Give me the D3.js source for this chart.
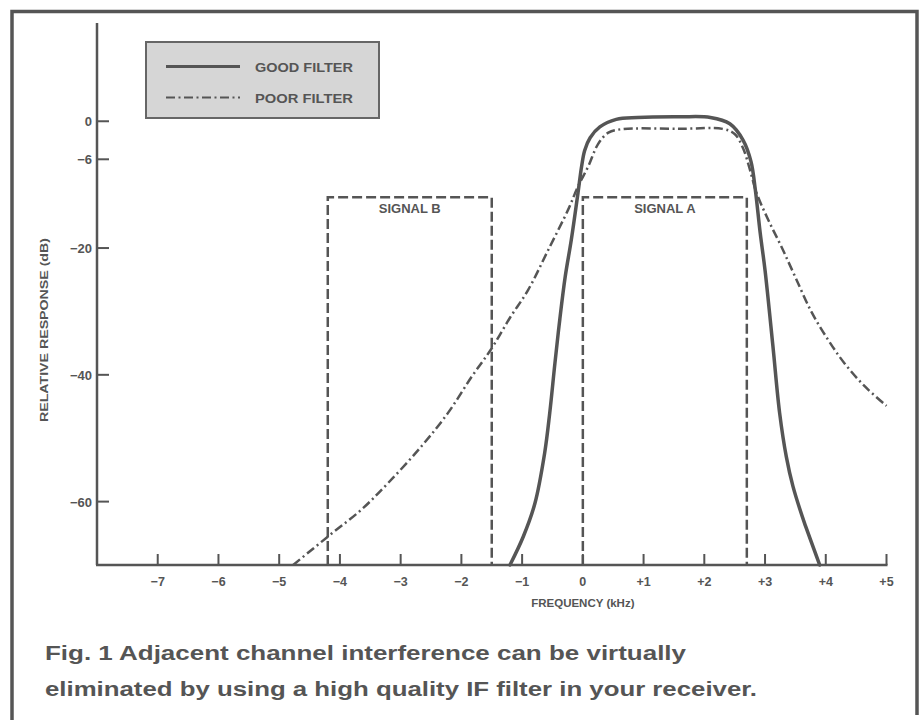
<!DOCTYPE html>
<html>
<head>
<meta charset="utf-8">
<script src="https://cdn.jsdelivr.net/npm/d3@7"></script>
<style>
  html, body { margin: 0; padding: 0; background: #fff; }
  svg { display: block; }
  text { font-family: "Liberation Sans", Arial, Helvetica, sans-serif; font-weight: bold; fill: #555; }
</style>
</head>
<body>
<svg id="chart" width="924" height="720"></svg>
<script>
// Frequency ticks (kHz) and their printed labels
const xTicks = [-7, -6, -5, -4, -3, -2, -1, 0, 1, 2, 3, 4, 5];
const xTickLabels = ["\u22127", "\u22126", "\u22125", "\u22124", "\u22123", "\u22122", "\u22121", "0", "+1", "+2", "+3", "+4", "+5"];

// Response ticks (dB) and labels
const yTicks = [0, -6, -20, -40, -60];
const yTickLabels = ["0", "\u22126", "\u221220", "\u221240", "\u221260"];

// Good filter response: frequency (kHz) and relative response (dB)
const goodFreq = [-1.20, -0.98, -0.79, -0.63, -0.545, -0.46, -0.38, -0.29, -0.19, -0.08, -0.02, 0.03, 0.12, 0.28, 0.55, 0.9, 1.6, 2.1, 2.42, 2.64, 2.77, 2.84, 2.92, 3.0, 3.13, 3.24, 3.35, 3.46, 3.65, 3.90];
const goodDb   = [-70, -65.5, -60.3, -52.4, -46, -38.2, -31.3, -24.5, -18.7, -11.3, -7.1, -4.6, -2.6, -0.9, 0.3, 0.6, 0.7, 0.6, -0.4, -3.0, -6.4, -10.8, -17.6, -23.5, -35.5, -46, -52.9, -57.6, -63.4, -70];

// Poor filter response
const poorFreq = [-4.77, -4.17, -3.65, -3.21, -2.66, -2.22, -1.83, -1.5, -1.2, -0.9, -0.57, -0.24, -0.08, 0.09, 0.25, 0.42, 0.64, 1.6, 2.3, 2.5, 2.64, 2.75, 2.86, 3.05, 3.27, 3.49, 3.76, 4.04, 4.31, 4.64, 5.0];
const poorDb   = [-70, -65.3, -61.3, -57.1, -51.3, -46, -40.3, -35.8, -31, -26.6, -20.3, -13.9, -10.3, -7.1, -3.6, -1.8, -1.25, -1.2, -1.2, -2.0, -4.3, -7.6, -11.3, -15.5, -19.8, -24.4, -30.0, -34.5, -38.2, -41.8, -44.9];

// Signal channels: name, start and end frequency (kHz), level (dB)
const signalNames = ["SIGNAL B", "SIGNAL A"];
const signalStart = [-4.2, 0];
const signalEnd   = [-1.5, 2.7];
const signalLevel = [-12, -12];

// Legend entries
const legendLabels = ["GOOD FILTER", "POOR FILTER"];

// Caption lines
const captionLines = [
  "Fig. 1 Adjacent channel interference can be virtually",
  "eliminated by using a high quality IF filter in your receiver."
];

const ink = "#555";
const svg = d3.select("#chart");

// Outer frame
svg.append("path")
  .attr("d", "M12,720 L12,11.5 L917,11.5 L917,715")
  .attr("fill", "none")
  .attr("stroke", ink)
  .attr("stroke-width", 3.5);

const x = d3.scaleLinear().domain([-8, 5]).range([97, 886.5]);
const y = d3.scaleLinear().domain([-70, 15.5]).range([565, 23]);

// Axes lines
svg.append("line")
  .attr("x1", x(-8)).attr("x2", x(-8))
  .attr("y1", y(15.5)).attr("y2", y(-70))
  .attr("stroke", ink).attr("stroke-width", 2.5);
svg.append("line")
  .attr("x1", x(-8) - 1).attr("x2", x(5) + 1)
  .attr("y1", y(-70)).attr("y2", y(-70))
  .attr("stroke", ink).attr("stroke-width", 2.5);

// X ticks (pointing up) and labels
const xg = svg.append("g");
xTicks.forEach((t, i) => {
  xg.append("line")
    .attr("x1", x(t)).attr("x2", x(t))
    .attr("y1", y(-70)).attr("y2", y(-70) - 11)
    .attr("stroke", ink).attr("stroke-width", 2);
  xg.append("text")
    .attr("x", x(t)).attr("y", y(-70) + 21)
    .attr("text-anchor", "middle")
    .attr("font-size", 12.5)
    .text(xTickLabels[i]);
});

// Y ticks (pointing right) and labels
const yg = svg.append("g");
yTicks.forEach((t, i) => {
  yg.append("line")
    .attr("x1", x(-8)).attr("x2", x(-8) + 12)
    .attr("y1", y(t)).attr("y2", y(t))
    .attr("stroke", ink).attr("stroke-width", 2);
  yg.append("text")
    .attr("x", x(-8) - 5).attr("y", y(t) + 5)
    .attr("text-anchor", "end")
    .attr("font-size", 13)
    .text(yTickLabels[i]);
});

// Axis titles
svg.append("text")
  .attr("x", x(0)).attr("y", 607)
  .attr("text-anchor", "middle")
  .attr("font-size", 11.5)
  .text("FREQUENCY (kHz)");
svg.append("text")
  .attr("transform", "translate(48,330) rotate(-90)")
  .attr("text-anchor", "middle")
  .attr("font-size", 11.5)
  .attr("textLength", 184)
  .attr("lengthAdjust", "spacingAndGlyphs")
  .text("RELATIVE RESPONSE (dB)");

// Signal channel boxes (dashed, open at the bottom)
signalNames.forEach((name, i) => {
  const x0 = x(signalStart[i]), x1 = x(signalEnd[i]);
  const yt = y(signalLevel[i]), yb = y(-70);
  svg.append("path")
    .attr("d", `M${x0},${yb} L${x0},${yt} L${x1},${yt} L${x1},${yb}`)
    .attr("fill", "none")
    .attr("stroke", ink)
    .attr("stroke-width", 2.5)
    .attr("stroke-dasharray", "10,4");
  svg.append("text")
    .attr("x", (x0 + x1) / 2).attr("y", yt + 16)
    .attr("text-anchor", "middle")
    .attr("font-size", 13)
    .text(name);
});

// Filter curves
const line = d3.line()
  .x(d => x(d[0]))
  .y(d => y(d[1]))
  .curve(d3.curveCatmullRom.alpha(0.5));

const goodData = goodFreq.map((f, i) => [f, goodDb[i]]);
const poorData = poorFreq.map((f, i) => [f, poorDb[i]]);

svg.append("path")
  .datum(poorData)
  .attr("d", line)
  .attr("fill", "none")
  .attr("stroke", ink)
  .attr("stroke-width", 2.5)
  .attr("stroke-dasharray", "9,3.5,2,3.5");

svg.append("path")
  .datum(goodData)
  .attr("d", line)
  .attr("fill", "none")
  .attr("stroke", ink)
  .attr("stroke-width", 3.5)
  .attr("stroke-linecap", "round");

// Legend
const lg = svg.append("g");
lg.append("rect")
  .attr("x", 146).attr("y", 42)
  .attr("width", 233).attr("height", 76)
  .attr("fill", "#d6d6d6")
  .attr("stroke", "#666")
  .attr("stroke-width", 2);
const legendY = [66.5, 97.5];
legendLabels.forEach((lab, i) => {
  lg.append("line")
    .attr("x1", 166).attr("x2", 240)
    .attr("y1", legendY[i]).attr("y2", legendY[i])
    .attr("stroke", ink)
    .attr("stroke-width", i === 0 ? 3 : 2.2)
    .attr("stroke-dasharray", i === 0 ? null : "9,3.5,2,3.5");
  lg.append("text")
    .attr("x", 255).attr("y", legendY[i] + 5)
    .attr("font-size", 13)
    .attr("textLength", 98)
    .attr("lengthAdjust", "spacingAndGlyphs")
    .text(lab);
});

// Caption
const capWidths = [641, 712];
captionLines.forEach((t, i) => {
  svg.append("text")
    .attr("x", 45).attr("y", 660 + i * 36)
    .attr("font-size", 20)
    .attr("textLength", capWidths[i])
    .attr("lengthAdjust", "spacingAndGlyphs")
    .text(t);
});
</script>
</body>
</html>
